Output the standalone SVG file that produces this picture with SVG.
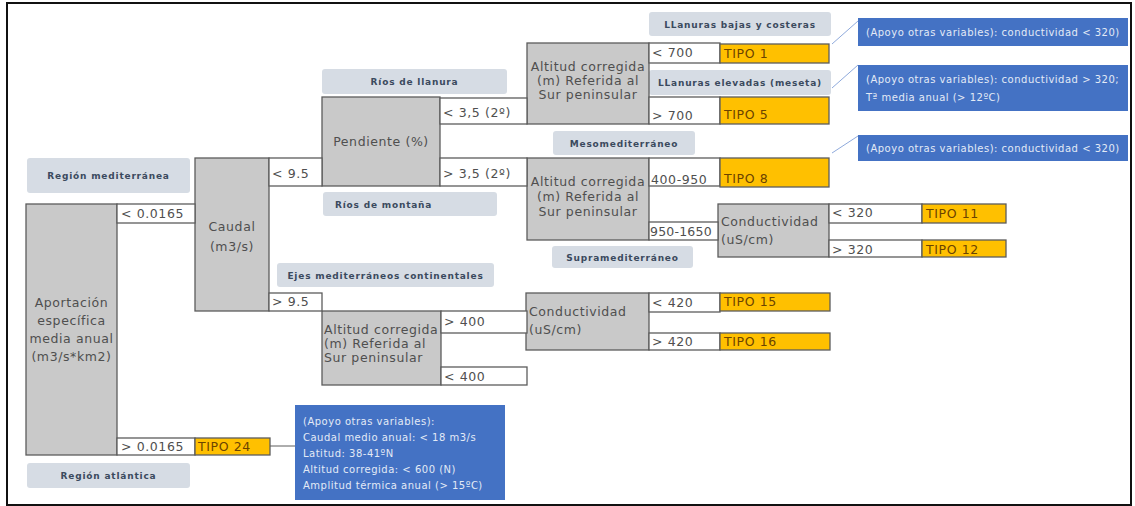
<svg xmlns="http://www.w3.org/2000/svg" width="1135" height="506" viewBox="0 0 1135 506">
<defs>
<style>
.g{fill:#c9c9c9;stroke:#5c5c5c;stroke-width:1.3}
.w{fill:#ffffff;stroke:#5c5c5c;stroke-width:1.3}
.y{fill:#ffc000;stroke:#5c5c5c;stroke-width:1.3}
.lb{fill:#d6dce4;stroke:none}
.nb{fill:#4472c4;stroke:none}
.t{font-family:"DejaVu Sans",Verdana,sans-serif;font-size:12.5px;letter-spacing:0.6px;fill:#4f4f4f}
.c{text-anchor:middle}
.ty{font-family:"DejaVu Sans",Verdana,sans-serif;font-size:12.5px;letter-spacing:0.6px;fill:#6b4300}
.l{font-family:"DejaVu Sans",Verdana,sans-serif;font-size:9px;font-weight:bold;letter-spacing:0.8px;fill:#3b4a5e}
.n{font-family:"DejaVu Sans",Verdana,sans-serif;font-size:10px;letter-spacing:0.5px;fill:#e3eaf6}
.cn{stroke:#8faadc;stroke-width:1;fill:none}
.cd{stroke:#5c5c5c;stroke-width:1;fill:none}
</style>
</defs>
<rect x="0" y="0" width="1135" height="506" fill="#ffffff"/>
<rect x="7" y="3" width="1124" height="502" fill="none" stroke="#111" stroke-width="2"/>

<g id="connectors">
<line class="cn" x1="832" y1="44" x2="858" y2="21"/>
<line class="cn" x1="832" y1="88" x2="858" y2="65"/>
<line class="cn" x1="832" y1="153" x2="858" y2="136"/>
<line class="cd" x1="270" y1="446" x2="295" y2="446"/>
</g>

<g id="label-region-mediterranea"><rect class="lb" x="27" y="158" width="163" height="35" rx="3"/><text class="l c" x="108.5" y="179">Región mediterránea</text></g>
<g id="label-region-atlantica"><rect class="lb" x="27" y="463" width="163" height="25" rx="3"/><text class="l c" x="108.5" y="479">Región atlántica</text></g>
<g id="label-rios-llanura"><rect class="lb" x="322" y="69" width="185" height="25" rx="3"/><text class="l c" x="414.5" y="85">Ríos de llanura</text></g>
<g id="label-rios-montana"><rect class="lb" x="323" y="192" width="174" height="24" rx="3"/><text class="l" x="335" y="208">Ríos de montaña</text></g>
<g id="label-ejes"><rect class="lb" x="277" y="263" width="217" height="24" rx="3"/><text class="l c" x="385.5" y="279">Ejes mediterráneos continentales</text></g>
<g id="label-meso"><rect class="lb" x="553" y="131" width="142" height="24" rx="3"/><text class="l c" x="624" y="147">Mesomediterráneo</text></g>
<g id="label-supra"><rect class="lb" x="552" y="246" width="141" height="22" rx="3"/><text class="l c" x="622.5" y="261">Supramediterráneo</text></g>
<g id="label-llanuras-bajas"><rect class="lb" x="649" y="12" width="182" height="24" rx="3"/><text class="l c" x="740" y="28">LLanuras bajas y costeras</text></g>
<g id="label-llanuras-elevadas"><rect class="lb" x="649" y="70" width="182" height="25" rx="3"/><text class="l c" x="740" y="86">LLanuras elevadas (meseta)</text></g>

<g id="aportacion"><rect class="g" x="26" y="204" width="91" height="251"/>
<text class="t c" x="71.5" y="307">Aportación</text><text class="t c" x="71.5" y="325">específica</text><text class="t c" x="71.5" y="343">media anual</text><text class="t c" x="71.5" y="361">(m3/s*km2)</text></g>
<g id="caudal"><rect class="g" x="195" y="158" width="74" height="153"/><text class="t c" x="232" y="231">Caudal</text><text class="t c" x="232" y="251">(m3/s)</text></g>
<g id="pendiente"><rect class="g" x="322" y="97" width="118" height="89"/><text class="t c" x="381" y="146">Pendiente (%)</text></g>
<g id="altitud-1"><rect class="g" x="527" y="43" width="122" height="81"/><text class="t c" x="588" y="71">Altitud corregida</text><text class="t c" x="588" y="85">(m) Referida al</text><text class="t c" x="588" y="99">Sur peninsular</text></g>
<g id="altitud-2"><rect class="g" x="527" y="158" width="122" height="82"/><text class="t c" x="588" y="186">Altitud corregida</text><text class="t c" x="588" y="201">(m) Referida al</text><text class="t c" x="588" y="216">Sur peninsular</text></g>
<g id="altitud-3"><rect class="g" x="322" y="311" width="119" height="74"/><text class="t" x="324" y="334">Altitud corregida</text><text class="t" x="324" y="348">(m) Referida al</text><text class="t" x="324" y="362">Sur peninsular</text></g>
<g id="conductividad-1"><rect class="g" x="718" y="204" width="111" height="53"/><text class="t" x="721" y="226">Conductividad</text><text class="t" x="721" y="244">(uS/cm)</text></g>
<g id="conductividad-2"><rect class="g" x="526" y="293" width="123" height="57"/><text class="t" x="529" y="316">Conductividad</text><text class="t" x="529" y="334">(uS/cm)</text></g>

<g id="cond-lt-0165"><rect class="w" x="117" y="204" width="78" height="19"/><text class="t" x="121" y="218">&lt; 0.0165</text></g>
<g id="cond-gt-0165"><rect class="w" x="117" y="438" width="78" height="17"/><text class="t" x="121" y="451">&gt; 0.0165</text></g>
<g id="cond-lt-95"><rect class="w" x="269" y="158" width="53" height="28"/><text class="t" x="272" y="178">&lt; 9.5</text></g>
<g id="cond-gt-95"><rect class="w" x="269" y="293" width="53" height="18"/><text class="t" x="272" y="306">&gt; 9.5</text></g>
<g id="cond-lt-35"><rect class="w" x="440" y="98" width="87" height="26"/><text class="t" x="443" y="117">&lt; 3,5 (2º)</text></g>
<g id="cond-gt-35"><rect class="w" x="440" y="158" width="87" height="28"/><text class="t" x="443" y="178">&gt; 3,5 (2º)</text></g>
<g id="cond-lt-700"><rect class="w" x="649" y="43" width="71" height="20"/><text class="t" x="652" y="57">&lt; 700</text></g>
<g id="cond-gt-700"><rect class="w" x="649" y="97" width="71" height="27"/><text class="t" x="652" y="120">&gt; 700</text></g>
<g id="cond-400-950"><rect class="w" x="649" y="158" width="71" height="28"/><text class="t" x="651" y="184">400-950</text></g>
<g id="cond-950-1650"><rect class="w" x="649" y="222" width="69" height="18"/><text class="t" x="650" y="236" style="letter-spacing:0.2px">950-1650</text></g>
<g id="cond-lt-320"><rect class="w" x="829" y="204" width="93" height="19"/><text class="t" x="832" y="217">&lt; 320</text></g>
<g id="cond-gt-320"><rect class="w" x="829" y="240" width="93" height="17"/><text class="t" x="832" y="254">&gt; 320</text></g>
<g id="cond-lt-420"><rect class="w" x="649" y="293" width="71" height="19"/><text class="t" x="652" y="307">&lt; 420</text></g>
<g id="cond-gt-420"><rect class="w" x="649" y="333" width="71" height="17"/><text class="t" x="652" y="346">&gt; 420</text></g>
<g id="cond-gt-400"><rect class="w" x="441" y="311" width="86" height="22"/><text class="t" x="444" y="326">&gt; 400</text></g>
<g id="cond-lt-400"><rect class="w" x="441" y="367" width="86" height="18"/><text class="t" x="444" y="381">&lt; 400</text></g>

<g id="tipo-1"><rect class="y" x="720" y="44" width="109" height="19"/><text class="ty" x="724" y="58">TIPO 1</text></g>
<g id="tipo-5"><rect class="y" x="720" y="97" width="109" height="27"/><text class="ty" x="724" y="119">TIPO 5</text></g>
<g id="tipo-8"><rect class="y" x="720" y="158" width="109" height="29"/><text class="ty" x="724" y="183">TIPO 8</text></g>
<g id="tipo-11"><rect class="y" x="922" y="204" width="84" height="19"/><text class="ty" x="926" y="218">TIPO 11</text></g>
<g id="tipo-12"><rect class="y" x="922" y="240" width="84" height="17"/><text class="ty" x="926" y="254">TIPO 12</text></g>
<g id="tipo-15"><rect class="y" x="720" y="293" width="110" height="18"/><text class="ty" x="724" y="306">TIPO 15</text></g>
<g id="tipo-16"><rect class="y" x="720" y="333" width="110" height="17"/><text class="ty" x="724" y="346">TIPO 16</text></g>
<g id="tipo-24"><rect class="y" x="195" y="438" width="75" height="17"/><text class="ty" x="198" y="451">TIPO 24</text></g>

<g id="nota-1"><rect class="nb" x="858" y="18" width="270" height="28"/><text class="n" x="866" y="36">(Apoyo otras variables): conductividad &lt; 320)</text></g>
<g id="nota-2"><rect class="nb" x="858" y="65" width="270" height="46"/><text class="n" x="866" y="83">(Apoyo otras variables): conductividad &gt; 320;</text><text class="n" x="866" y="101">Tª media anual (&gt; 12ºC)</text></g>
<g id="nota-3"><rect class="nb" x="858" y="135" width="270" height="26"/><text class="n" x="866" y="152">(Apoyo otras variables): conductividad &lt; 320)</text></g>
<g id="nota-4"><rect class="nb" x="295" y="405" width="210" height="95"/>
<text class="n" x="303" y="425">(Apoyo otras variables):</text>
<text class="n" x="303" y="441">Caudal medio anual: &lt; 18 m3/s</text>
<text class="n" x="303" y="457">Latitud: 38-41ºN</text>
<text class="n" x="303" y="473">Altitud corregida: &lt; 600 (N)</text>
<text class="n" x="303" y="489">Amplitud térmica anual (&gt; 15ºC)</text></g>
</svg>
